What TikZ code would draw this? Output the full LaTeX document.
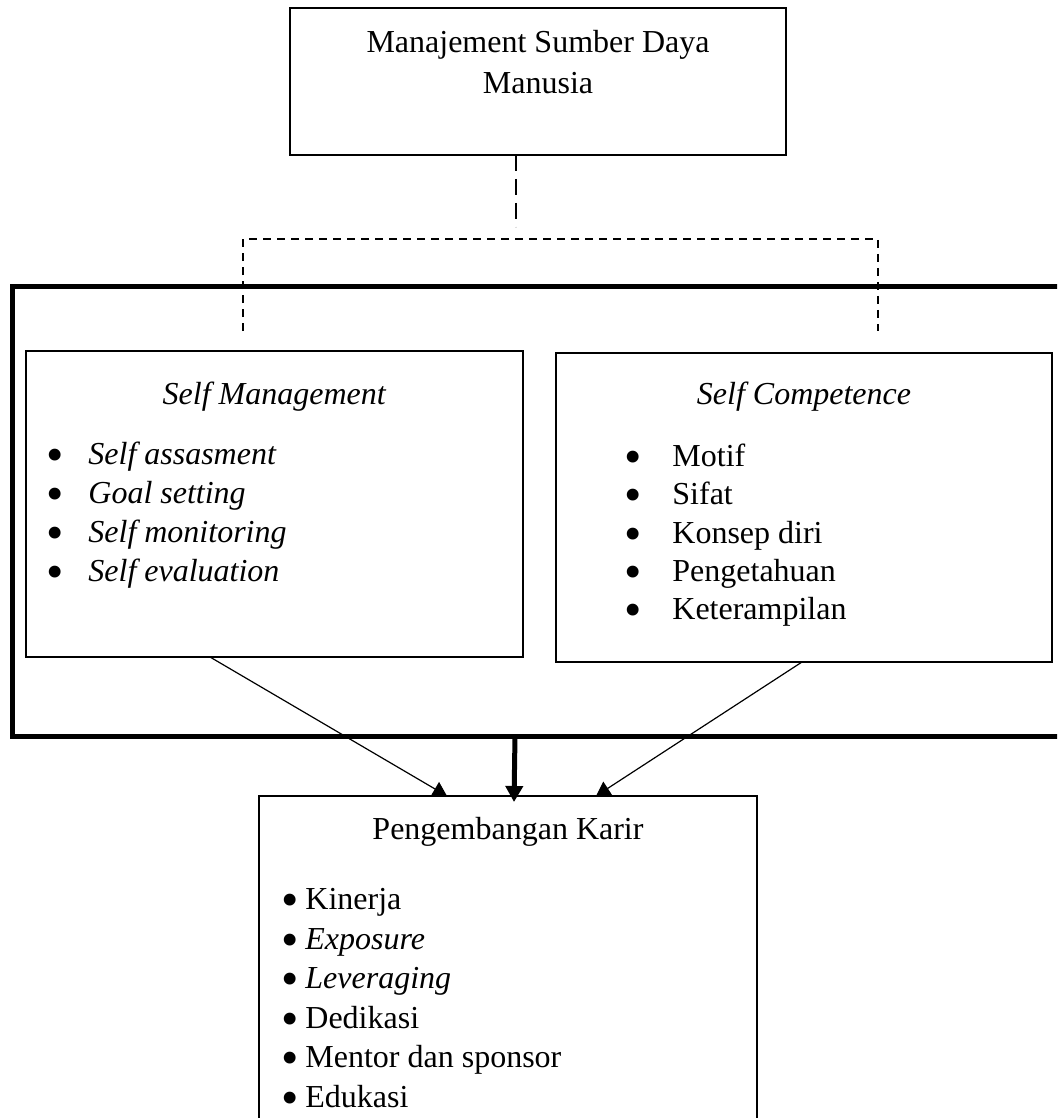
\documentclass[tikz,border=0pt]{standalone}
\usepackage{fontspec}
\setmainfont{Liberation Serif}
\usepackage{tikz}
\usetikzlibrary{arrows.meta,calc}
\newcommand{\blt}{\smash{\raisebox{-0.24em}{\scalebox{1.55}{\textbullet}}}}
\tikzset{
  box/.style={rectangle,draw=black,line width=0.75pt,outer sep=0pt,inner sep=0pt},
  frm/.style={rectangle,draw=black,line width=2.5pt,outer sep=0pt,inner sep=0pt},
  lbl/.style={inner sep=0pt,anchor=base,align=center,font=\fontsize{16}{20.5}\selectfont},
  itm/.style={inner sep=0pt,anchor=base west,font=\fontsize{16}{19.5}\selectfont},
  fl/.style={-{Triangle[length=7pt,width=8pt]},draw=black,line width=0.6pt},
  flb/.style={-{Triangle[length=8pt,width=8.5pt]},draw=black,line width=2.5pt},
  dlong/.style={draw=black,line width=0.75pt,dash pattern=on 8pt off 4pt},
  dshort/.style={draw=black,line width=0.75pt,dash pattern=on 4pt off 3pt},
}
\begin{document}
\begin{tikzpicture}[x=0.5pt,y=-0.5pt]
  \useasboundingbox (0,0) rectangle (1057,1118);
  \clip (0,0) rectangle (1057,1118);
  % boxes
  \node[box,minimum width=248pt,minimum height=73.5pt] (msdm) at (538,81.5) {};
  \node[frm,minimum width=534pt,minimum height=225pt] (grp) at (546,511) {};
  \node[box,minimum width=248.5pt,minimum height=153pt] (sm) at (274.5,504) {};
  \node[box,minimum width=248pt,minimum height=154.5pt] (sc) at (804,507.5) {};
  \node[box,minimum width=249pt,minimum height=177pt] (pk) at (508,973) {};
  % titles
  \node[lbl] (msdmt) at ($(msdm.north)+(0,86)$) {Manajement Sumber Daya\\Manusia};
  \node[lbl] (smt) at ($(sm.north)+(0,53)$) {\textit{Self Management}};
  \node[lbl] (sct) at ($(sc.north)+(0,51)$) {\textit{Self Competence}};
  \node[lbl] (pkt) at ($(pk.north)+(0,43)$) {Pengembangan Karir};
  % self management
  \node[itm] (sm1) at (46,464) {\makebox[21pt][l]{\blt}\textit{Self assasment}};
  \node[itm] (sm2) at (46,503) {\makebox[21pt][l]{\blt}\textit{Goal setting}};
  \node[itm] (sm3) at (46,542) {\makebox[21pt][l]{\blt}\textit{Self monitoring}};
  \node[itm] (sm4) at (46,581) {\makebox[21pt][l]{\blt}\textit{Self evaluation}};
  % self competence
  \node[itm] (sc1) at (624,466) {\makebox[24pt][l]{\blt}Motif};
  \node[itm] (sc2) at (624,504) {\makebox[24pt][l]{\blt}Sifat};
  \node[itm] (sc3) at (624,543) {\makebox[24pt][l]{\blt}Konsep diri};
  \node[itm] (sc4) at (624,581) {\makebox[24pt][l]{\blt}Pengetahuan};
  \node[itm] (sc5) at (624,619) {\makebox[24pt][l]{\blt}Keterampilan};
  % pengembangan karir
  \node[itm] (pk1) at (281,909) {\makebox[12pt][l]{\blt}Kinerja};
  \node[itm] (pk2) at (281,949) {\makebox[12pt][l]{\blt}\textit{Exposure}};
  \node[itm] (pk3) at (281,988) {\makebox[12pt][l]{\blt}\textit{Leveraging}};
  \node[itm] (pk4) at (281,1028) {\makebox[12pt][l]{\blt}Dedikasi};
  \node[itm] (pk5) at (281,1067) {\makebox[12pt][l]{\blt}Mentor dan sponsor};
  \node[itm] (pk6) at (281,1107) {\makebox[12pt][l]{\blt}Edukasi};
  % dashed links
  \coordinate (jn) at (516,227);
  \coordinate (hl) at (243,239);
  \coordinate (hr) at (878,239);
  \coordinate (el) at (243,331);
  \coordinate (er) at (878,331);
  \draw[dlong] ($(msdm.south)+(-22,0)$) -- (jn);
  \draw[dshort] (el) -- (hl) -- (hr) -- (er);
  % arrows
  \draw[fl] ($(sm.south west)+(184,0)$) -- ($(pk.north west)+(188,0)$);
  \draw[fl] ($(sc.south west)+(246,0)$) -- ($(pk.north west)+(337,0)$);
  \draw[flb] ($(grp.south west)+(503,0)$) -- ($(pk.north west)+(255,6)$);
\end{tikzpicture}
\end{document}
